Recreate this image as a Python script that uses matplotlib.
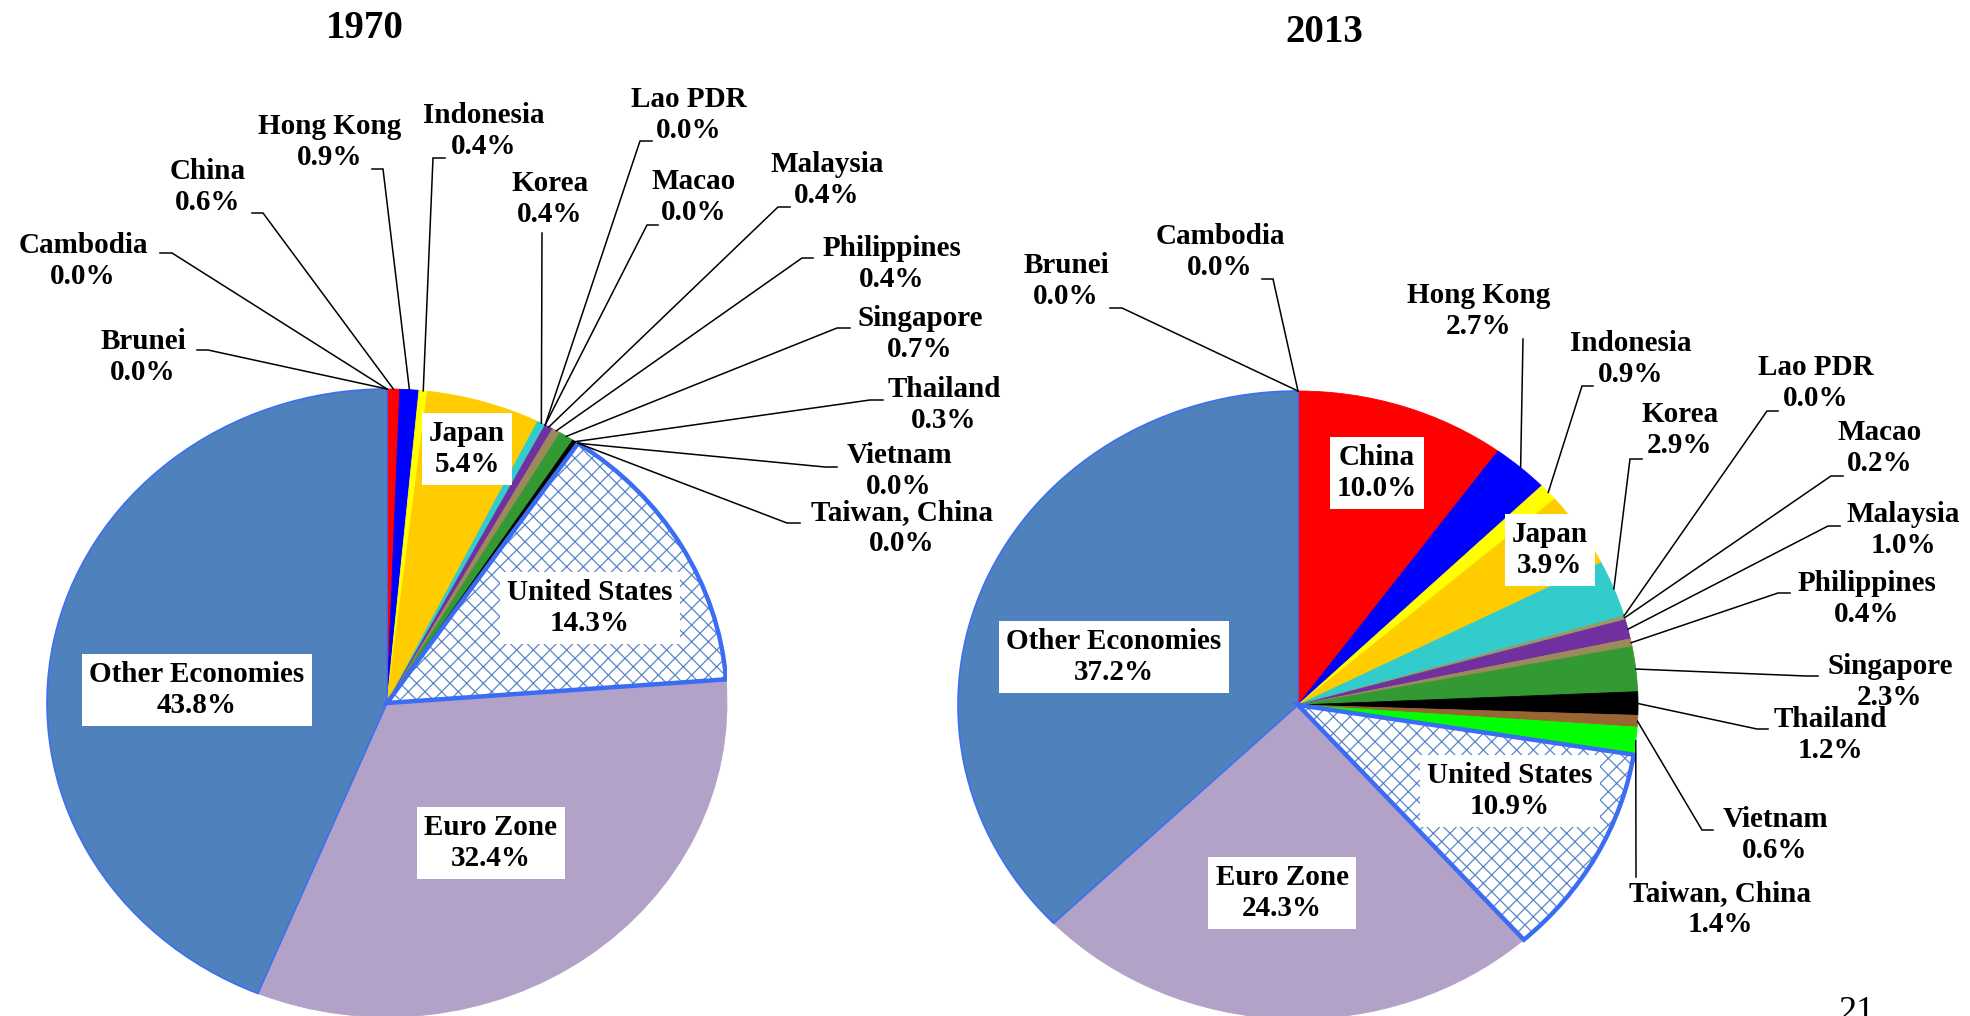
import matplotlib
matplotlib.use("Agg")
import matplotlib.pyplot as plt
from matplotlib.patches import Wedge
import numpy as np

plt.rcParams['font.family'] = ['Liberation Serif', 'DejaVu Serif']
plt.rcParams['hatch.linewidth'] = 0.9

W, H = 1970, 1016

########## data ##########
economies = ["Brunei", "Cambodia", "China", "Hong Kong", "Indonesia", "Japan", "Korea",
             "Lao PDR", "Macao", "Malaysia", "Philippines", "Singapore", "Thailand",
             "Vietnam", "Taiwan, China", "United States", "Euro Zone", "Other Economies"]
share_1970 = [0.0, 0.0, 0.6, 0.9, 0.4, 5.4, 0.4, 0.0, 0.0, 0.4, 0.4, 0.7, 0.3,
              0.0, 0.0, 14.3, 32.4, 43.8]
share_2013 = [0.0, 0.0, 10.0, 2.7, 0.9, 3.9, 2.9, 0.0, 0.2, 1.0, 0.4, 2.3, 1.2,
              0.6, 1.4, 10.9, 24.3, 37.2]
slice_colors = ["#c0504d", "#9bbb59", "#ff0000", "#0000ff", "#ffff00", "#ffcc00", "#33cccc",
                "#ff99cc", "#999966", "#7030a0", "#9c8a5a", "#339933", "#000000",
                "#996633", "#00ff00", "#ffffff", "#b3a2c7", "#4f81bd"]

# label layout in pixels: name -> (text x, text y, tail x at label, elbow x, tail y)
# tail None = label sits inside the slice on a white box
layout_1970 = {
    "Brunei": (143, 357, 197, 208, 350),
    "Cambodia": (83, 261, 160, 172, 253),
    "China": (208, 187, 252, 263, 213),
    "Hong Kong": (330, 142, 372, 383, 169),
    "Indonesia": (484, 131, 445, 433, 158),
    "Japan": (467, 449, None, None, None),
    "Korea": (550, 199, 542, 542, 233),
    "Lao PDR": (689, 115, 652, 640, 141),
    "Macao": (694, 197, 658, 647, 225),
    "Malaysia": (827, 180, 790, 778, 207),
    "Philippines": (892, 264, 813, 802, 258),
    "Singapore": (920, 334, 850, 837, 328),
    "Thailand": (944, 405, 883, 870, 400),
    "Vietnam": (899, 471, 837, 825, 467),
    "Taiwan, China": (902, 528, 800, 787, 523),
    "United States": (590, 608, None, None, None),
    "Euro Zone": (491, 843, None, None, None),
    "Other Economies": (197, 690, None, None, None),
}
layout_2013 = {
    "Brunei": (1066, 281, 1110, 1122, 308),
    "Cambodia": (1220, 252, 1262, 1273, 279),
    "China": (1377, 473, None, None, None),
    "Hong Kong": (1479, 311, 1523, 1523, 339),
    "Indonesia": (1631, 359, 1593, 1582, 386),
    "Japan": (1550, 550, None, None, None),
    "Korea": (1680, 430, 1642, 1630, 459),
    "Lao PDR": (1816, 383, 1778, 1767, 411),
    "Macao": (1880, 448, 1843, 1831, 476),
    "Malaysia": (1903, 530, 1840, 1828, 526),
    "Philippines": (1867, 599, 1790, 1778, 593),
    "Singapore": (1890, 682, 1818, 1806, 676),
    "Thailand": (1830, 735, 1768, 1757, 729),
    "Vietnam": (1775, 835, 1713, 1702, 830),
    "Taiwan, China": (1720, 909, 1636, 1636, 877),
    "United States": (1510, 791, None, None, None),
    "Euro Zone": (1282, 893, None, None, None),
    "Other Economies": (1114, 657, None, None, None),
}

fig = plt.figure(figsize=(W / 100, H / 100), dpi=100)
over = fig.add_axes([0, 0, 1, 1], zorder=5)
over.set_xlim(0, W)
over.set_ylim(H, 0)
over.axis('off')
over.patch.set_visible(False)


def draw_pie(cx, cy, rx, ry, shares, layout, title, title_xy):
    ax = fig.add_axes([(cx - rx) / W, 1 - (cy + ry) / H, 2 * rx / W, 2 * ry / H])
    wedges, _ = ax.pie(shares, colors=slice_colors, startangle=90, counterclock=False,
                       radius=1)
    ax.set_xlim(-1, 1)
    ax.set_ylim(-1, 1)
    ax.set_aspect('auto')
    ax.axis('off')

    for w, v, c in zip(wedges, shares, slice_colors):
        if v > 0:
            w.set_edgecolor(c)
            w.set_linewidth(0.6)
        else:
            w.set_linewidth(0)

    us = wedges[economies.index("United States")]
    us.set_facecolor("white")
    us.set_edgecolor("#5b86c8")
    us.set_hatch("xx")
    us.set_linewidth(0)
    ax.add_patch(Wedge(us.center, us.r, us.theta1, us.theta2, fill=False,
                       edgecolor="#3a6cf4", linewidth=3.2, zorder=3))

    oth = wedges[economies.index("Other Economies")]
    oth.set_edgecolor("#3d6ff2")
    oth.set_linewidth(1.2)

    for name, w, v in zip(economies, wedges, shares):
        tx, ty, nx, ex, ey = layout[name]
        txt = f"{name}\n{v:.1f}%"
        if nx is None:
            over.text(tx, ty, txt, ha='center', va='center', fontsize=21,
                      fontweight='bold', multialignment='center',
                      bbox=dict(boxstyle='square,pad=0.25', facecolor='white',
                                edgecolor='none'))
            continue
        a = np.deg2rad((w.theta1 + w.theta2) / 2)
        dx, dy = ax.transData.transform((np.cos(a), np.sin(a)))
        over.plot([dx, ex, nx], [H - dy, ey, ey], color='black', lw=1.1,
                  solid_joinstyle='miter')
        over.text(tx, ty, txt, ha='center', va='center', fontsize=21,
                  fontweight='bold', multialignment='center')

    over.text(title_xy[0], title_xy[1], title, ha='center', va='center',
              fontsize=28, fontweight='bold')


draw_pie(387, 703, 340, 314, share_1970, layout_1970, "1970", (365, 28))
draw_pie(1298, 705, 340, 314, share_2013, layout_2013, "2013", (1324, 33))

over.text(1856, 996, "21", ha='center', va='top', fontsize=26)

fig.savefig("out.png", dpi=100)
